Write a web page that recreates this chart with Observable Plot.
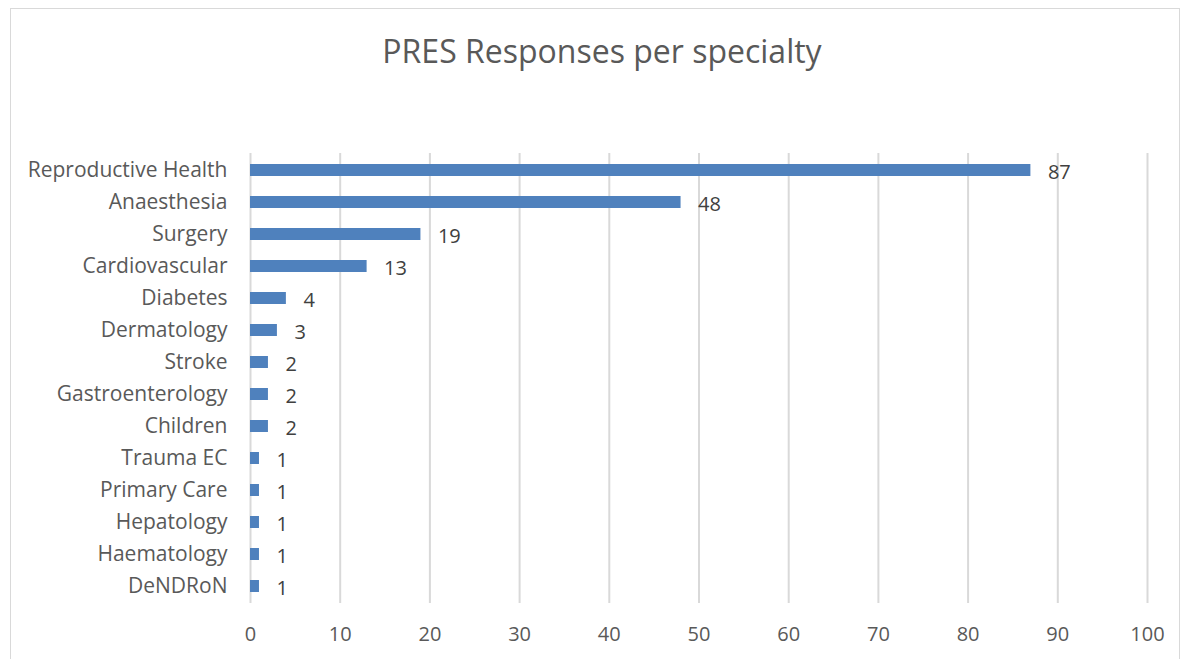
<!DOCTYPE html>
<html>
<head>
<meta charset="utf-8">
<script src="https://cdn.jsdelivr.net/npm/d3@7"></script>
<script src="https://cdn.jsdelivr.net/npm/@observablehq/plot@0.6"></script>
<style>
  html, body { margin: 0; padding: 0; background: #fff; }
  #wrap { position: relative; width: 1186px; height: 659px; overflow: hidden; font-family: "Open Sans", sans-serif; }
  #frame { position: absolute; left: 10px; top: 8px; width: 1170px; height: 660px; border: 1px solid #d9d9d9; box-sizing: border-box; }
  #title { position: absolute; left: 0; width: 1204px; top: 29px; text-align: center; font-size: 32px; color: #595959; }
  #chart { position: absolute; left: 0; top: 0; }
</style>
</head>
<body>
<div id="wrap">
  <div id="frame"></div>
  <div id="title">PRES Responses per specialty</div>
  <div id="chart"></div>
</div>
<script>
const specialties = ["Reproductive Health","Anaesthesia","Surgery","Cardiovascular","Diabetes","Dermatology","Stroke","Gastroenterology","Children","Trauma EC","Primary Care","Hepatology","Haematology","DeNDRoN"];
const responses = [87,48,19,13,4,3,2,2,2,1,1,1,1,1];
const xTicks = [0,10,20,30,40,50,60,70,80,90,100];

const data = specialties.map((s, i) => ({specialty: s, value: responses[i]}));

const chart = Plot.plot({
  width: 1186,
  height: 659,
  marginLeft: 250,
  marginRight: 39,
  marginTop: 153,
  marginBottom: 56,
  style: {fontFamily: "Open Sans, sans-serif", fontSize: "20px", color: "#595959", background: "transparent"},
  x: {domain: [0, 100], ticks: xTicks, label: null, tickSize: 0, tickPadding: 23},
  y: {domain: specialties, label: null, tickSize: 0, tickPadding: 23, paddingInner: 0.64, paddingOuter: 0.28},
  marks: [
    Plot.gridX(xTicks, {stroke: "#d9d9d9", strokeOpacity: 1, strokeWidth: 2}),
    Plot.barX(data, {x: "value", y: "specialty", fill: "#4f81bd"}),
    Plot.axisY({tickSize: 0, tickPadding: 23, fontSize: 21, label: null}),
    Plot.text(data, {x: "value", y: "specialty", text: d => String(d.value), textAnchor: "start", dx: 17, dy: 2, fill: "#404040", fontSize: 20})
  ]
});
document.getElementById("chart").appendChild(chart);
</script>
</body>
</html>
